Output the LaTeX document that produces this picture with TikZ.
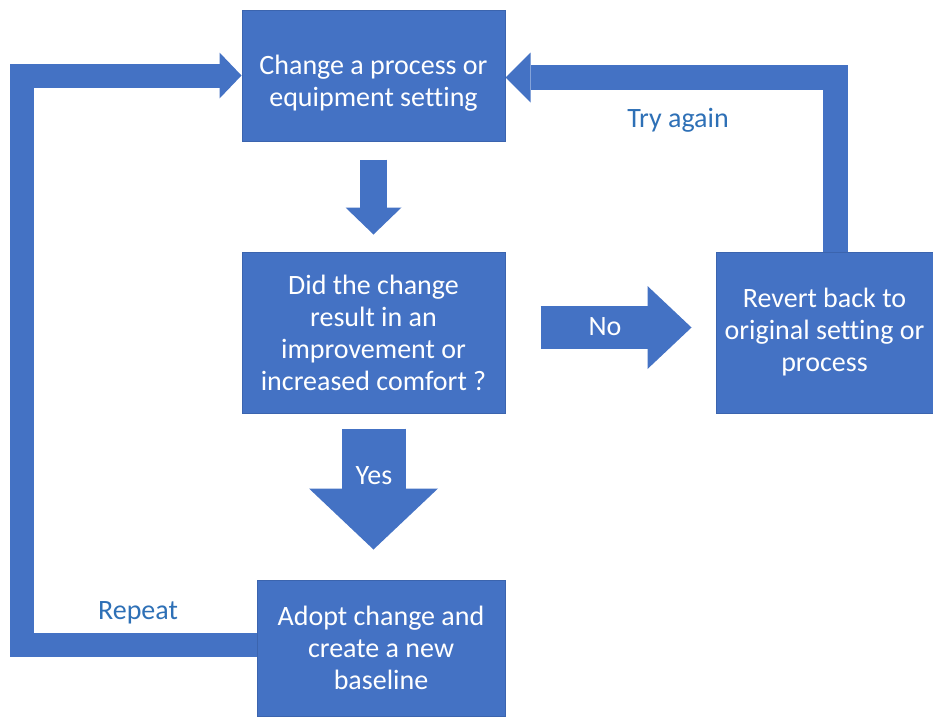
\documentclass[tikz,border=0pt]{standalone}
\usepackage{fontspec}
\setmainfont{Carlito}[Ligatures=NoCommon]
\usetikzlibrary{arrows.meta}
\definecolor{boxblue}{HTML}{4472C4}
\definecolor{boxline}{HTML}{3B64AE}
\definecolor{labelblue}{RGB}{46,112,182}
\begin{document}
\begin{tikzpicture}[x=1pt,y=-1pt,
  flowbox/.style={rectangle, fill=boxblue, draw=boxline, line width=1pt, inner sep=0pt,
    align=center, text=white, font=\fontsize{28}{32}\selectfont},
  blockarrow/.style={draw=boxblue, line width=#1, line join=miter, line cap=butt},
  lbl/.style={text=labelblue, font=\fontsize{28}{32}\selectfont, inner sep=0pt},
  arrlbl/.style={text=white, font=\fontsize{28}{32}\selectfont, inner sep=0pt}]
\useasboundingbox (0,0) rectangle (933,716);
% boxes
\node[flowbox, minimum width=263pt, minimum height=131pt, text height=62pt, text depth=0pt] (top) at (373.5,75.5)
  {Change a process or\\equipment setting};
\node[flowbox, minimum width=263pt, minimum height=161pt] (mid) at (373.5,332.5)
  {Did the change\\result in an\\improvement or\\increased comfort ?};
\node[flowbox, minimum width=217pt, minimum height=161pt] (rev) at (824.5,332.5)
  {Revert back to\\original setting or\\process};
\node[flowbox, minimum width=248pt, minimum height=136pt] (adopt) at (381,648)
  {Adopt change and\\create a new\\baseline};
% down arrow
\draw[blockarrow=27pt, shorten <=18pt, shorten >=17pt,
  -{Triangle[length=27pt,width=56pt,line width=0pt]}] (top.south) -- (mid.north);
% No arrow
\draw[blockarrow=43pt, shorten <=35pt, shorten >=24pt,
  -{Triangle[length=44pt,width=83pt,line width=0pt]}]
  ([yshift=5pt]mid.east) -- ([yshift=5pt]rev.west);
\node[arrlbl] (no) at (605,327) {No};
% Yes arrow
\draw[blockarrow=64pt, shorten <=15pt, shorten >=30pt,
  -{Triangle[length=61pt,width=129pt,line width=0pt]}]
  (mid.south) -- (mid.south |- adopt.north);
\node[arrlbl] (yes) at (374,476) {Yes};
% repeat loop
\coordinate (L1) at (22,645);
\coordinate (L2) at (22,75.5);
\draw[blockarrow=24pt, -{Triangle[length=22pt,width=46pt,line width=0pt]}]
  (adopt.west |- L1) -- (L1) -- (L2) -- (top.west |- L2);
\node[lbl] (repeat) at (138,613) {Repeat};
% try again loop
\coordinate (R1) at (835,77.5);
\draw[blockarrow=25pt, -{Triangle[length=25pt,width=50pt,line width=0pt]}]
  (R1 |- rev.north) -- (R1) -- (top.east |- R1);
\node[lbl] (try) at (678,120) {Try again};
\end{tikzpicture}
\end{document}
